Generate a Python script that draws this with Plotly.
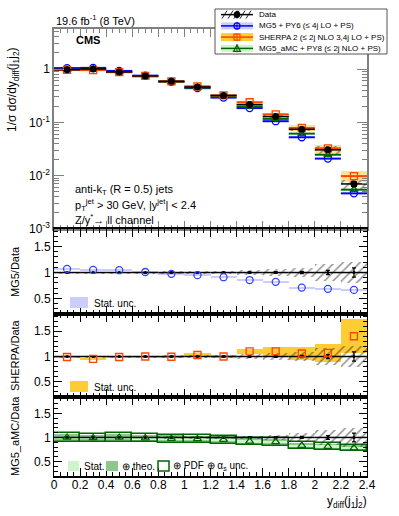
import plotly.graph_objects as go

# bins of y_diff(j1j2)
BIN_CENTERS = [0.1, 0.3, 0.5, 0.7, 0.9, 1.1, 1.3, 1.5, 1.7, 1.9, 2.1, 2.3]
BIN_HALF = [0.1] * 12

# normalised cross section 1/sigma dsigma/dy_diff
DATA = [0.97, 1.0, 0.88, 0.74, 0.59, 0.46, 0.32, 0.216, 0.128, 0.074, 0.0305, 0.0070]
DATA_STAT = [0.005, 0.005, 0.005, 0.006, 0.007, 0.008, 0.01, 0.012, 0.016, 0.022, 0.04, 0.09]
DATA_SYST = [0.02, 0.02, 0.02, 0.02, 0.025, 0.025, 0.03, 0.04, 0.06, 0.09, 0.16, 0.2]

MG5 = [1.04, 1.05, 0.92, 0.75, 0.575, 0.437, 0.291, 0.185, 0.105, 0.0525, 0.0209, 0.00466]
SHERPA = [0.96, 0.955, 0.871, 0.74, 0.587, 0.474, 0.32, 0.238, 0.141, 0.0784, 0.0326, 0.0098]
AMC = [0.97, 0.99, 0.88, 0.729, 0.575, 0.446, 0.306, 0.199, 0.116, 0.0614, 0.0247, 0.00546]

# ratios to data
MG5_RATIO = [1.07, 1.05, 1.045, 1.01, 0.975, 0.95, 0.91, 0.855, 0.82, 0.71, 0.685, 0.665]
SHERPA_RATIO = [0.99, 0.955, 0.99, 1.0, 0.995, 1.03, 1.0, 1.1, 1.1, 1.06, 1.07, 1.4]
AMC_RATIO = [1.0, 0.99, 1.0, 0.985, 0.975, 0.97, 0.955, 0.92, 0.91, 0.83, 0.81, 0.78]

MG5_STAT = [0.01, 0.01, 0.01, 0.01, 0.01, 0.012, 0.012, 0.014, 0.015, 0.015, 0.02, 0.02]
SHERPA_STAT = [0.02, 0.015, 0.02, 0.02, 0.02, 0.03, 0.03, 0.05, 0.08, 0.13, 0.17, 0.24]
AMC_STAT = [0.02, 0.02, 0.02, 0.02, 0.02, 0.02, 0.02, 0.02, 0.02, 0.025, 0.03, 0.03]
AMC_THEO = [0.07, 0.07, 0.07, 0.07, 0.07, 0.07, 0.07, 0.07, 0.07, 0.07, 0.07, 0.07]
AMC_TOTAL = [0.085, 0.085, 0.085, 0.085, 0.085, 0.085, 0.085, 0.085, 0.085, 0.085, 0.085, 0.085]

X_TICKS = [0, 0.2, 0.4, 0.6, 0.8, 1, 1.2, 1.4, 1.6, 1.8, 2, 2.2, 2.4]
X_TICKTEXT = ["0", "0.2", "0.4", "0.6", "0.8", "1", "1.2", "1.4", "1.6", "1.8", "2", "2.2", "2.4"]

BLUE = "#0000ff"
LAVENDER = "#ccccff"
RED = "#ff4500"
GOLD = "#ffcc33"
GREEN = "#006600"
GREEN_MID = "#8cc88c"
GREEN_LIGHT = "#ccf5cc"
FONT = "Liberation Sans"

# page geometry (pixels)
L, R, T, B = 54, 10, 8, 40
PW = 399 - L - R
PH = 516 - T - B


def px(x):
    return (x - L) / PW


def py(y):
    return (516 - B - y) / PH


def band(xs, centre, rel, color, line=None, pattern=None, axis="1"):
    lo = [c * (1 - r) for c, r in zip(centre, rel)]
    h = [2 * c * r for c, r in zip(centre, rel)]
    marker = dict(color=color, line=dict(width=0))
    if line:
        marker["line"] = dict(color=line, width=1.5)
    if pattern:
        marker["pattern"] = pattern
    return go.Bar(x=xs, y=h, base=lo, width=0.2, marker=marker, showlegend=False,
                  hoverinfo="skip", xaxis="x" + ("" if axis == "1" else axis),
                  yaxis="y" + ("" if axis == "1" else axis))


HATCH = dict(shape="/", fgcolor="#222", bgcolor="rgba(0,0,0,0)", size=6, solidity=0.25)

fig = go.Figure()

# ---- top panel
fig.add_trace(band(BIN_CENTERS, SHERPA, SHERPA_STAT, "rgba(255,204,51,0.55)"))
fig.add_trace(band(BIN_CENTERS, DATA, DATA_SYST, "rgba(0,0,0,0)", pattern=HATCH))


def model(y, color, symbol, axis, line=True):
    ex = dict(type="data", array=BIN_HALF, width=0, thickness=2, color=color, visible=line)
    return go.Scatter(x=BIN_CENTERS, y=y, mode="markers", error_x=ex,
                      marker=dict(symbol=symbol, size=7, color=color, line=dict(width=1.3, color=color)),
                      showlegend=False, xaxis="x" + axis, yaxis="y" + axis)


fig.add_trace(model(MG5, BLUE, "circle-open", ""))
fig.add_trace(model(AMC, GREEN, "triangle-up-open", ""))
fig.add_trace(model(SHERPA, RED, "square-open", ""))
fig.add_trace(go.Scatter(
    x=BIN_CENTERS, y=DATA, mode="markers",
    marker=dict(symbol="circle", size=7, color="black"),
    error_x=dict(type="data", array=BIN_HALF, width=0, thickness=1.5, color="black"),
    error_y=dict(type="data", array=[d * s for d, s in zip(DATA, DATA_STAT)], width=3,
                 thickness=1.2, color="black"),
    showlegend=False))

ONES = [1] * 12


def data_ratio(axis):
    return go.Scatter(
        x=BIN_CENTERS, y=ONES, mode="markers", marker=dict(size=3, color="black"),
        error_x=dict(type="data", array=BIN_HALF, width=0, thickness=1.5, color="black"),
        error_y=dict(type="data", array=DATA_STAT, width=2, thickness=1.2, color="black"),
        showlegend=False, xaxis="x" + axis, yaxis="y" + axis)


# ---- MG5 ratio
fig.add_trace(band(BIN_CENTERS, MG5_RATIO, MG5_STAT, LAVENDER, axis="2"))
fig.add_trace(band(BIN_CENTERS, ONES, DATA_SYST, "rgba(0,0,0,0)", pattern=HATCH, axis="2"))
fig.add_trace(data_ratio("2"))
fig.add_trace(model(MG5_RATIO, "#3344ff", "circle-open", "2", line=False))

# ---- SHERPA ratio
fig.add_trace(band(BIN_CENTERS, SHERPA_RATIO, SHERPA_STAT, GOLD, axis="3"))
fig.add_trace(band(BIN_CENTERS, ONES, DATA_SYST, "rgba(0,0,0,0)", pattern=HATCH, axis="3"))
fig.add_trace(data_ratio("3"))
fig.add_trace(model(SHERPA_RATIO, RED, "square-open", "3", line=False))

# ---- MG5_aMC ratio
fig.add_trace(band(BIN_CENTERS, AMC_RATIO, AMC_THEO, GREEN_MID, axis="4"))
fig.add_trace(band(BIN_CENTERS, AMC_RATIO, AMC_STAT, GREEN_LIGHT, axis="4"))
fig.add_trace(band(BIN_CENTERS, AMC_RATIO, AMC_TOTAL, "rgba(0,0,0,0)", line=GREEN, axis="4"))
fig.add_trace(band(BIN_CENTERS, ONES, DATA_SYST, "rgba(0,0,0,0)", pattern=HATCH, axis="4"))
fig.add_trace(data_ratio("4"))
fig.add_trace(model(AMC_RATIO, GREEN, "triangle-up-open", "4", line=False))

tickfont = dict(family=FONT, size=12, color="black")


def xax(anchor, labels, col):
    return dict(domain=[0, px(367)], range=[0, 2.4], anchor=anchor, matches="x" if anchor != "y" else None,
                tickvals=X_TICKS, ticktext=X_TICKTEXT, showticklabels=labels, ticks="inside", ticklen=8,
                tickcolor=col, minor=dict(dtick=0.05, tick0=0, ticks="inside", ticklen=4, tickcolor=col),
                showline=True, linecolor=col, linewidth=1.5, mirror="allticks", showgrid=False,
                zeroline=False, tickfont=tickfont, automargin=False, ticklabelstandoff=-3)


def ratio_yax(dom, anchor):
    return dict(domain=dom, range=[0.2, 1.84], anchor=anchor, tickvals=[0.5, 1, 1.5],
                ticktext=["0.5", "1", "1.5"], ticks="inside", ticklen=8, tickcolor="black",
                minor=dict(dtick=0.1, tick0=0, ticks="inside", ticklen=4, tickcolor="black"),
                showline=True, linecolor="black", linewidth=1, mirror="allticks", showgrid=False,
                zeroline=False, tickfont=tickfont, automargin=False)


GREY = "#808080"
log_minor = [m * 10 ** e for e in (-3, -2, -1, 0) for m in range(2, 10)]
fig.update_layout(
    width=399, height=516, margin=dict(l=L, r=R, t=T, b=B, autoexpand=False),
    paper_bgcolor="white", plot_bgcolor="white", barmode="overlay", bargap=0,
    font=dict(family=FONT, color="black"),
    xaxis=xax("y", False, GREY),
    xaxis2=xax("y2", False, "black"),
    xaxis3=xax("y3", False, "black"),
    xaxis4=xax("y4", True, "black"),
    yaxis=dict(domain=[py(229), py(29)], type="log", range=[-3, 0.75], anchor="x",
               tickvals=[0.001, 0.01, 0.1, 1], ticktext=["10<sup>-3</sup>", "10<sup>-2</sup>", "10<sup>-1</sup>", "1"],
               ticks="inside", ticklen=10, tickcolor=GREY,
               minor=dict(tickmode="array", tickvals=log_minor, ticks="inside", ticklen=5, tickcolor=GREY),
               showline=True, linecolor=GREY, linewidth=1.5, mirror="allticks", showgrid=False,
               tickfont=tickfont, automargin=False),
    yaxis2=ratio_yax([py(314), py(229)], "x2"),
    yaxis3=ratio_yax([py(397), py(314)], "x3"),
    yaxis4=ratio_yax([0, py(397)], "x4"),
)

ann = []


def text(x, y, s, size=11, xanchor="left", angle=0, **kw):
    ann.append(dict(x=px(x), y=py(y), xref="paper", yref="paper", text=s, showarrow=False,
                    xanchor=xanchor, yanchor="middle", textangle=angle,
                    font=dict(family=FONT, size=size, color="black"), **kw))


text(54, 20, "19.6 fb<sup>-1</sup> (8 TeV)", size=11)
text(74, 40, "<b>CMS</b>", size=11)
text(73, 190, "anti-k<sub>T</sub> (R = 0.5) jets", size=11)
text(73, 205, "p<sub>T</sub><sup>jet</sup> > 30 GeV, |y<sup>jet</sup>| < 2.4", size=11)
text(73, 219, "Z/γ<sup>*</sup>→ ll channel", size=11)
text(13, 90, "1/σ dσ/dy<sub>diff</sub>(j<sub>1</sub>j<sub>2</sub>)", size=12, xanchor="center", angle=-90)
text(15, 272, "MG5/Data", size=11, xanchor="center", angle=-90)
text(15, 355, "SHERPA/Data", size=11, xanchor="center", angle=-90)
text(15, 436, "MG5_aMC/Data", size=11, xanchor="center", angle=-90)
text(369, 502, "y<sub>diff</sub>(j<sub>1</sub>j<sub>2</sub>)", size=12, xanchor="right")

shapes = []


def rect(x0, y0, x1, y1, fill, line=None, lw=1):
    shapes.append(dict(type="rect", xref="paper", yref="paper", x0=px(x0), x1=px(x1), y0=py(y0), y1=py(y1),
                       fillcolor=fill, line=dict(color=line or "rgba(0,0,0,0)", width=lw if line else 0),
                       layer="above"))


def seg(x0, y0, x1, y1, color, w=1.5):
    shapes.append(dict(type="line", xref="paper", yref="paper", x0=px(x0), x1=px(x1), y0=py(y0), y1=py(y1),
                       line=dict(color=color, width=w), layer="above"))


# ratio panel keys
rect(70, 297, 88, 308, LAVENDER)
text(92, 303, "Stat. unc.", size=10)
rect(70, 381, 88, 392, GOLD)
text(92, 387, "Stat. unc.", size=10)
rect(68, 461, 79, 471, GREEN_LIGHT)
text(82, 466, "Stat.", size=10)
rect(106, 461, 118, 471, GREEN_MID)
text(120, 466, "⊕ theo.", size=10)
rect(158, 461, 169, 471, "rgba(0,0,0,0)", GREEN, 1.5)
text(171, 466, "⊕ PDF ⊕ α<sub>s</sub> unc.", size=10)

# main legend
rect(215, 9, 387, 54, "white", "#555", 1)
ys = [14.6, 25.9, 37.1, 48.4]
sx0, sx1, sc = 221, 253, 237
# data entry
for hx in range(222, 252, 6):
    seg(hx, ys[0] + 4, hx + 5, ys[0] - 4, "#222", 1)
seg(sx0, ys[0], sx1, ys[0], "black", 1.5)
seg(sc, ys[0] - 4, sc, ys[0] + 4, "black", 1)
shapes.append(dict(type="circle", xref="paper", yref="paper", x0=px(sc - 3), x1=px(sc + 3),
                   y0=py(ys[0] + 3), y1=py(ys[0] - 3), fillcolor="black", line=dict(color="black", width=1),
                   layer="above"))
# MG5
rect(sx0, ys[1] - 3.5, sx1, ys[1] + 3.5, LAVENDER)
seg(sx0, ys[1], sx1, ys[1], BLUE, 1.5)
seg(sc, ys[1] - 4, sc, ys[1] + 4, BLUE, 1)
shapes.append(dict(type="circle", xref="paper", yref="paper", x0=px(sc - 3), x1=px(sc + 3),
                   y0=py(ys[1] + 3), y1=py(ys[1] - 3), line=dict(color=BLUE, width=1.2), layer="above"))
# SHERPA
rect(sx0, ys[2] - 4, sx1, ys[2] + 4, GOLD)
seg(sx0, ys[2], sx1, ys[2], RED, 1.5)
seg(sc, ys[2] - 4, sc, ys[2] + 4, RED, 1)
rect(sc - 3, ys[2] - 3, sc + 3, ys[2] + 3, "rgba(0,0,0,0)", RED, 1.2)
# aMC
rect(sx0, ys[3] - 3.5, sx1, ys[3] + 3.5, GREEN_LIGHT)
seg(sx0, ys[3], sx1, ys[3], GREEN, 1.5)
seg(sc, ys[3] - 4, sc, ys[3] + 4, GREEN, 1)
shapes.append(dict(type="path", xref="paper", yref="paper",
                   path="M {} {} L {} {} L {} {} Z".format(px(sc - 3.5), py(ys[3] + 3), px(sc + 3.5),
                                                           py(ys[3] + 3), px(sc), py(ys[3] - 3.5)),
                   line=dict(color=GREEN, width=1.2), layer="above"))

legend_txt = ["Data", "MG5 + PY6 (≤ 4j LO + PS)", "SHERPA 2 (≤ 2j NLO 3,4j LO + PS)",
              "MG5_aMC + PY8 (≤ 2j NLO + PS)"]
for yy, s in zip(ys, legend_txt):
    text(257, yy, s, size=8)

fig.update_layout(annotations=ann, shapes=shapes)
fig.write_html("out.html", config={"displayModeBar": False},
               post_script="document.body.style.margin='0px';")
